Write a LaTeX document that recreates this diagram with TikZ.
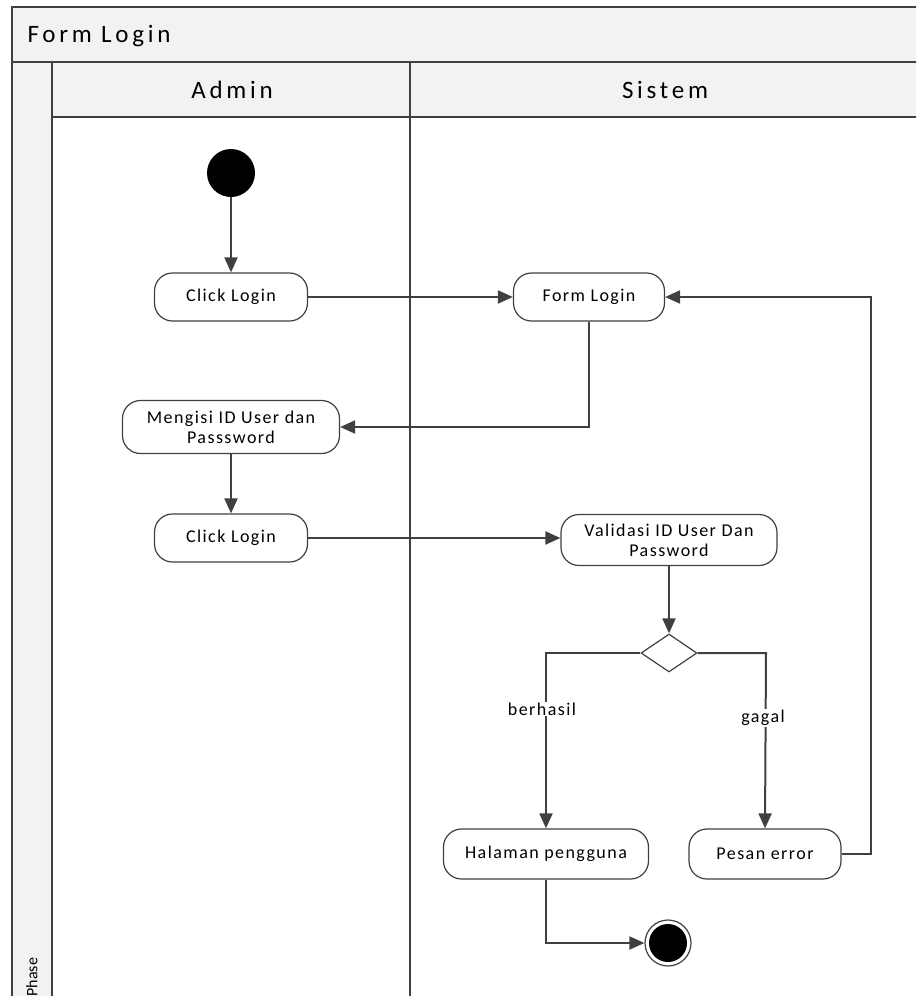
\documentclass[tikz,border=0pt]{standalone}
\usepackage{fontspec}
\setmainfont{Carlito}[LetterSpace=8]
\newfontfamily\hdfont{Carlito}[LetterSpace=15]
\newfontfamily\phfont{Carlito}[LetterSpace=0]
\usetikzlibrary{shapes.geometric,arrows.meta}
\definecolor{ln}{HTML}{404040}
\definecolor{hd}{HTML}{F2F2F2}
\begin{document}
\begin{tikzpicture}[x=1pt,y=-1pt,
  act/.style={draw=ln,line width=1.2pt,rounded corners=18pt,fill=white,minimum height=48pt,align=center,font=\fontsize{18}{20}\selectfont,inner sep=0pt},
  flow/.style={draw=ln,line width=2pt,-{Triangle[length=15pt,width=13pt]}},
  frame/.style={draw=ln,line width=1.3pt},
  hdr/.style={font=\hdfont\fontsize{25}{29}\selectfont},
  lbl/.style={font=\fontsize{18}{20}\selectfont,fill=white,inner sep=1pt}]
\useasboundingbox (0,0) rectangle (916,996);
\begin{scope}
\clip (0,0) rectangle (916,996);
% frame
\fill[hd] (12,7) rectangle (930,62);
\fill[hd] (12,62) rectangle (52,1010);
\fill[hd] (52,62) rectangle (930,117);
\draw[frame] (12,1010) -- (12,7) -- (930,7);
\draw[frame] (12,62) -- (930,62);
\draw[frame] (52,62) -- (52,1010);
\draw[frame] (52,117) -- (930,117);
\draw[frame] (410,62) -- (410,1010);
\node[rotate=90,anchor=west,font=\phfont\fontsize{16}{18}\selectfont] (phase) at (32,1000) {Phase};
\end{scope}
\node[hdr,anchor=west] (title) at (24,36) {Form Login};
\node[hdr] (admin) at (232,90) {Admin};
\node[hdr] (sistem) at (665,90) {Sistem};
% nodes
\node[circle,fill=black,minimum size=48pt,inner sep=0pt] (start) at (231,173) {};
\node[act,minimum width=153pt] (click1) at (231,297) {Click Login};
\node[act,minimum width=151pt] (form) at (589,297) {Form Login};
\node[act,minimum width=217pt,minimum height=53pt] (isi) at (231,427) {Mengisi ID User dan\\Passsword};
\node[act,minimum width=153pt] (click2) at (231,538) {Click Login};
\node[act,minimum width=216pt,minimum height=51pt] (valid) at (669,540) {Validasi ID User Dan\\Password};
\node[diamond,draw=ln,line width=1.2pt,fill=white,minimum width=56pt,minimum height=38pt,inner sep=0pt,aspect=1.5] (dec) at (669,653) {};
\node[act,minimum width=205pt,minimum height=50pt] (hal) at (546,854) {Halaman pengguna};
\node[act,minimum width=152pt,minimum height=50pt] (pesan) at (765,854) {Pesan error};
\node[circle,draw=ln,line width=1.2pt,minimum size=46pt,inner sep=0pt] (end) at (668,943) {};
\node[circle,fill=black,minimum size=38pt,inner sep=0pt] (endin) at (668,943) {};
% flows
\draw[flow] (start) -- (click1);
\draw[flow] (click1) -- (form);
\draw[flow] (form.south) |- (isi.east);
\draw[flow] (isi) -- (click2);
\draw[flow] (click2) -- (valid.west |- click2);
\draw[flow] (valid) -- (dec);
\coordinate (bl) at (546,653);
\coordinate (gr) at (766,653);
\draw[flow] (dec.west) -- (bl) -- (hal.north);
\draw[flow] (dec.east) -- (gr) -- (pesan.north);
\node[lbl] (berhasil) at (542,709) {berhasil};
\node[lbl] (gagal) at (763,718) {gagal};
\coordinate (pr) at (871,854);
\coordinate (pt) at (871,297);
\draw[flow] (pesan.east) -- (pr) -- (pt) -- (form.east);
\draw[flow] (hal.south) |- (end.west);
\end{tikzpicture}
\end{document}
